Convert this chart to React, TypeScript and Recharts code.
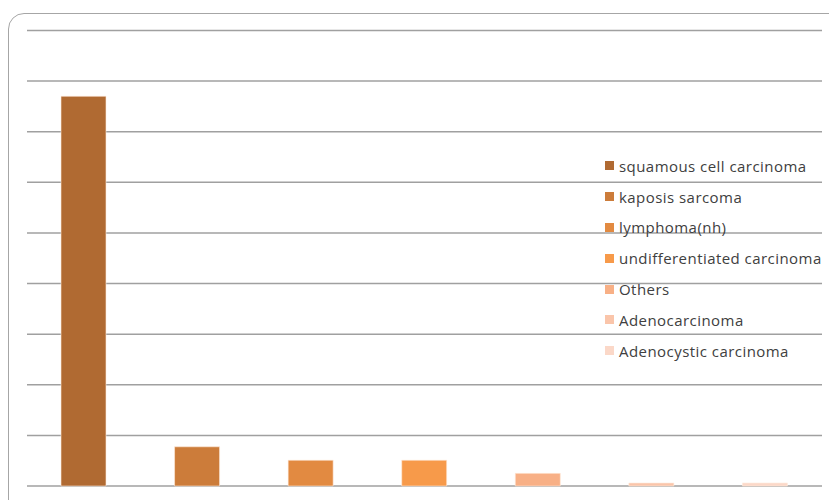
import { BarChart, Bar, Cell, XAxis, YAxis, CartesianGrid } from 'recharts'

const categories = [
  'squamous cell carcinoma',
  'kaposis sarcoma',
  'lymphoma(nh)',
  'undifferentiated carcinoma',
  'Others',
  'Adenocarcinoma',
  'Adenocystic carcinoma',
]
const cases = [154, 15.5, 10.2, 10.2, 5, 1.2, 1.2]
const yTicks = [0, 20, 40, 60, 80, 100, 120, 140, 160, 180]

const COLORS = ['#B06A32', '#CC7C3A', '#E28A41', '#F79A4A', '#F8B086', '#FAC5AA', '#FBD8C8']

const data = categories.map((name, i) => ({ name, cases: cases[i] }))

function LegendList() {
  return (
    <div
      style={{
        position: 'absolute',
        left: 605,
        top: 150.5,
        fontFamily: 'Open Sans, sans-serif',
        fontSize: 15,
        letterSpacing: 0.45,
        color: '#404040',
      }}
    >
      {categories.map((c, i) => (
        <div key={c} style={{ display: 'flex', alignItems: 'center', height: 30.8, whiteSpace: 'nowrap' }}>
          <span style={{ width: 9, height: 9, background: COLORS[i], marginRight: 5, display: 'inline-block' }} />
          <span>{c}</span>
        </div>
      ))}
    </div>
  )
}

export default function App() {
  return (
    <div style={{ position: 'absolute', left: 0, top: 0, width: 829, height: 500, overflow: 'hidden', background: '#fff' }}>
      <div
        style={{
          position: 'absolute',
          left: 8,
          top: 13,
          width: 850,
          height: 520,
          border: '1.5px solid #a6a6a6',
          borderRadius: 16,
          boxSizing: 'border-box',
        }}
      />
      <BarChart
        width={829}
        height={500}
        data={data}
        margin={{ top: 30.5, right: 7, bottom: 14, left: 27 }}
        style={{ position: 'absolute', left: 0, top: 0 }}
      >
        <CartesianGrid vertical={false} stroke="#a0a0a0" strokeWidth={1.5} />
        <XAxis dataKey="name" hide />
        <YAxis hide domain={[0, 180]} ticks={yTicks} />
        <Bar dataKey="cases" barSize={45} isAnimationActive={false} stroke="rgba(255,235,220,0.6)" strokeWidth={1}>
          {data.map((d, i) => (
            <Cell key={d.name} fill={COLORS[i]} />
          ))}
        </Bar>
      </BarChart>
      <LegendList />
    </div>
  )
}
